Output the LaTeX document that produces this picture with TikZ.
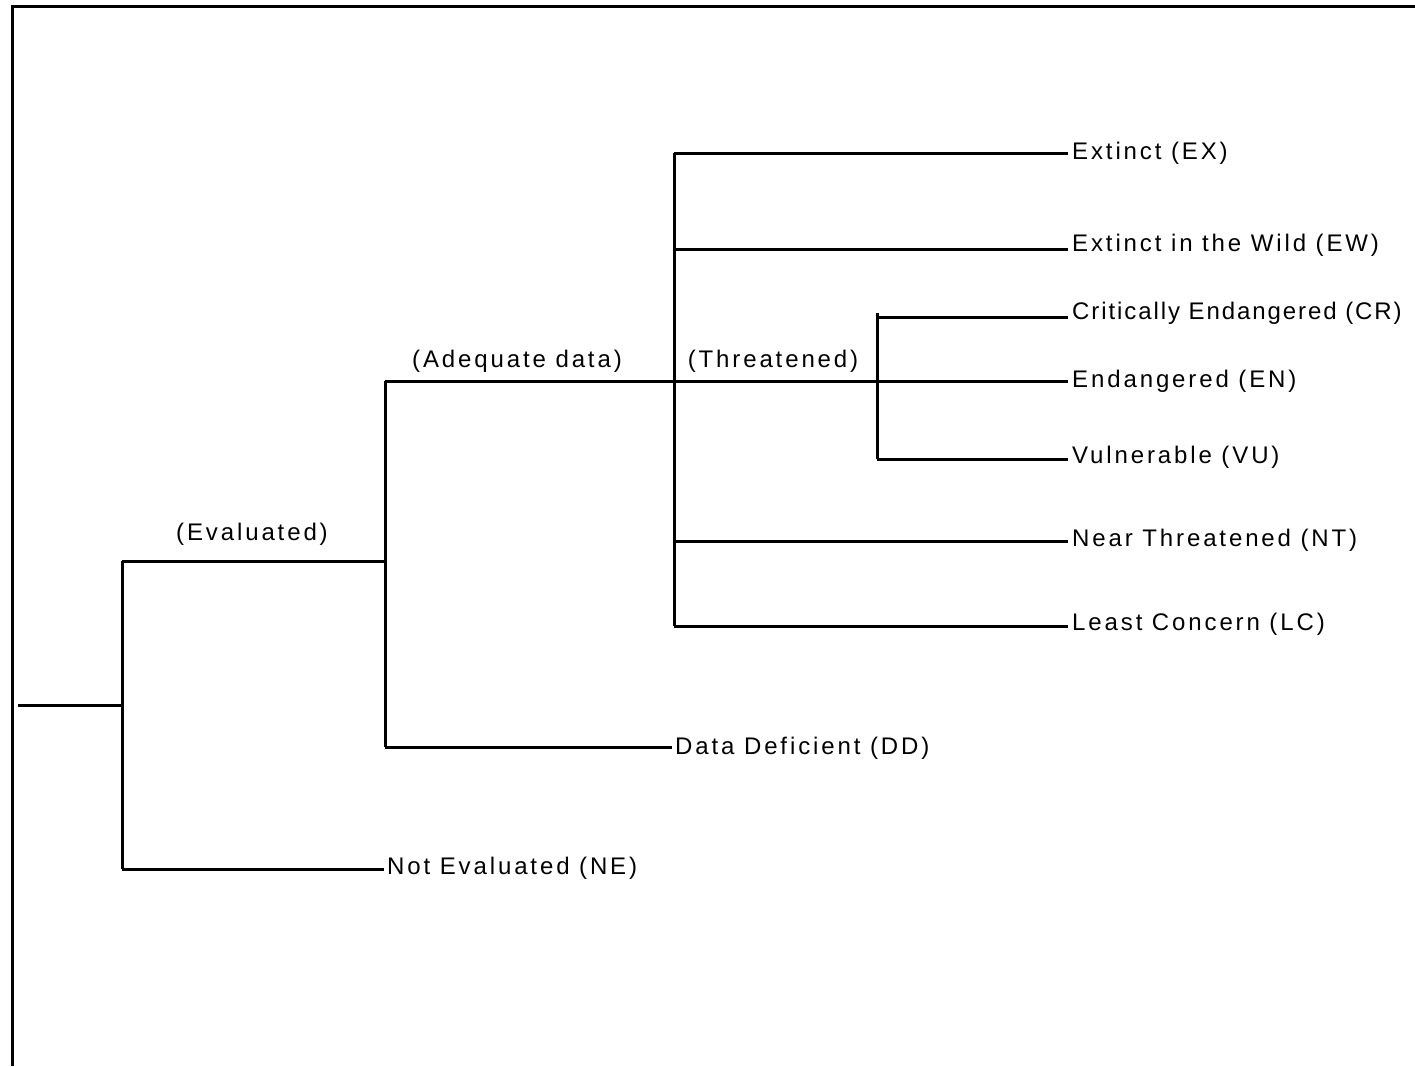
\documentclass[tikz,border=0pt]{standalone}
\usepackage{fontspec}
\setmainfont{Liberation Sans}[LetterSpace=12]
\begin{document}
\begin{tikzpicture}[x=1pt,y=-1pt,
  br/.style={line width=3pt},
  fr/.style={line width=3.5pt},
  leaf/.style={anchor=west,inner sep=0pt,font=\fontsize{24}{29}\selectfont},
  lbl/.style={inner sep=0pt,font=\fontsize{24}{29}\selectfont}]
\useasboundingbox (0,0) rectangle (1415,1066);
% frame
\coordinate (ftl) at (12.5,6.5);
\coordinate (ftr) at (1415,6.5);
\coordinate (fbl) at (12.5,1066);
\draw[fr] (ftr) -- (ftl) -- (fbl);
% junction coordinates
\coordinate (root) at (18,705);
\coordinate (j1) at (122,705);
\coordinate (j1t) at (122,561);
\coordinate (j1b) at (122,869);
\coordinate (j2) at (385,561);
\coordinate (j2t) at (385,381);
\coordinate (j2b) at (385,747);
\coordinate (j3) at (674,381);
\coordinate (j3t) at (674,153);
\coordinate (j3b) at (674,626);
\coordinate (j3ew) at (674,249);
\coordinate (j3nt) at (674,541);
\coordinate (j4) at (877,381);
\coordinate (j4top) at (877,313);
\coordinate (j4t) at (877,317);
\coordinate (j4b) at (877,459);
% leaves
\node[leaf] (ne) at (384,868) {\hspace{3pt}Not Evaluated (NE)};
\node[leaf] (dd) at (672,748) {\hspace{3pt}Data Deficient (DD)};
\node[leaf] (ex) at (1068,153) {\hspace{4pt}Extinct (EX)};
\node[leaf] (ew) at (1068,245) {\hspace{4pt}Extinct in the Wild (EW)};
\node[leaf] (cr) at (1068,313) {\hspace{4pt}\addfontfeature{LetterSpace=8}Critically Endangered (CR)};
\node[leaf] (en) at (1068,381) {\hspace{4pt}Endangered (EN)};
\node[leaf] (vu) at (1068,457) {\hspace{4pt}Vulnerable (VU)};
\node[leaf] (nt) at (1068,540) {\hspace{4pt}Near Threatened (NT)};
\node[leaf] (lc) at (1068,624) {\hspace{4pt}Least Concern (LC)};
% branch labels
\node[lbl] (evl) at (252,534) {(Evaluated)};
\node[lbl] (adl) at (517,361) {(Adequate data)};
\node[lbl] (thl) at (773,361) {(Threatened)};
% lines
\draw[br] (root) -- (j1);
\draw[br] (j1t) -- (j1b);
\draw[br] (j1t) -- (j2);
\draw[br] (j1b) -- (ne.west |- j1b);
\draw[br] (j2t) -- (j2b);
\draw[br] (j2b) -- (dd.west |- j2b);
\draw[br] (j2t) -- (j3) -- (j4) -- (en.west);
\draw[br] (j3t) -- (j3b);
\draw[br] (j3t) -- (ex.west);
\draw[br] (j3ew) -- (ew.west |- j3ew);
\draw[br] (j3nt) -- (nt.west |- j3nt);
\draw[br] (j3b) -- (lc.west |- j3b);
\draw[br] (j4top) -- (j4b);
\draw[br] (j4t) -- (cr.west |- j4t);
\draw[br] (j4b) -- (vu.west |- j4b);
\end{tikzpicture}
\end{document}
